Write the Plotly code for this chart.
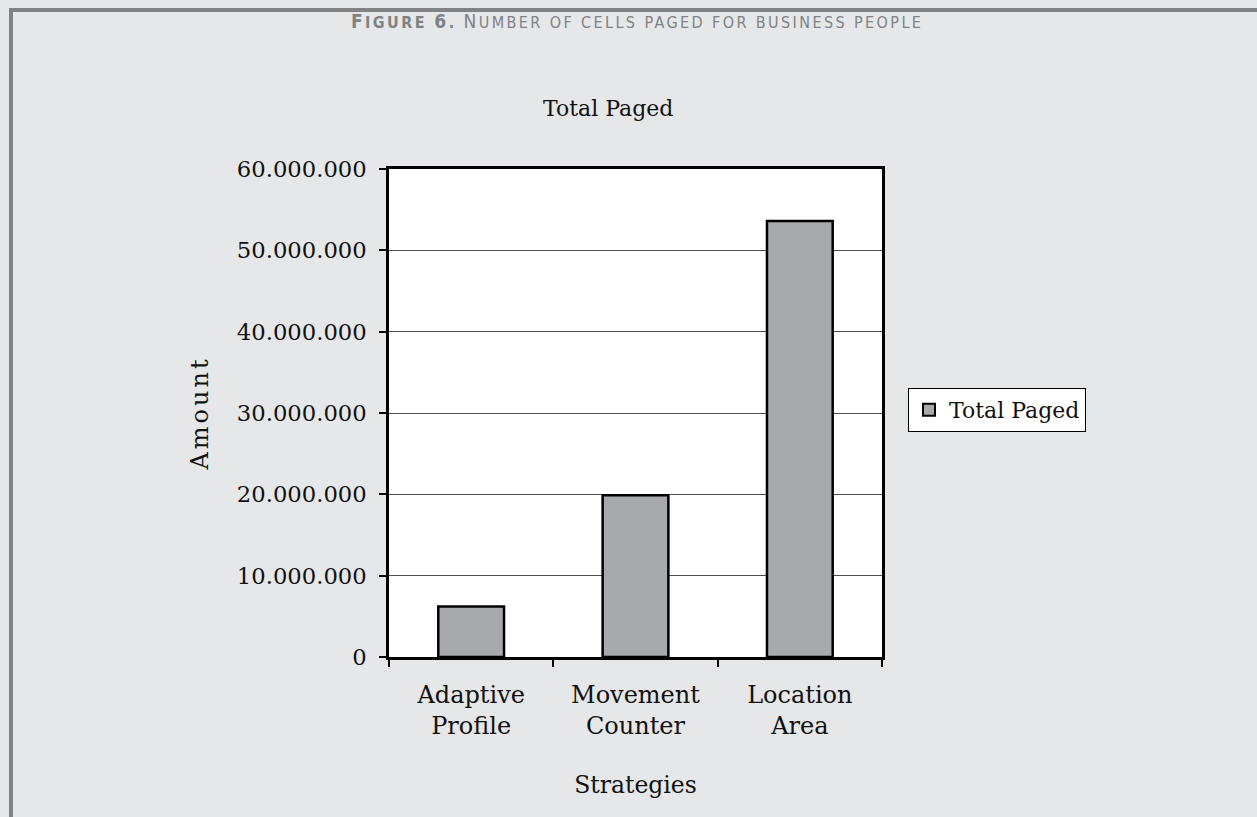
import plotly.graph_objects as go

# Paging results per location-management strategy
strategies = ["Adaptive<br>Profile", "Movement<br>Counter", "Location<br>Area"]
total_paged = [6200000, 19900000, 53600000]
y_ticks = [0, 10000000, 20000000, 30000000, 40000000, 50000000, 60000000]

W, H = 1257, 817
L, R, T, B = 389, 882, 169, 657  # plot-area edges in pixels

def px_x(x):
    return (x - L) / (R - L)

def px_y(y):
    return (B - y) / (B - T)

SERIF = "DejaVu Serif, Liberation Serif, serif"
FRAME = "#808285"

def small_caps(text, big=19, small=16):
    """Build a small-caps string: capitals at full size, the rest as smaller capitals."""
    out = []
    for word in text.split(" "):
        parts = []
        for ch in word:
            if ch.isupper() or ch.isdigit():
                parts.append(f"<span style='font-size:{big}px'>{ch}</span>")
            else:
                parts.append(f"<span style='font-size:{small}px'>{ch.upper()}</span>")
        out.append("".join(parts))
    return " ".join(out)

header = (
    "<span style='letter-spacing:2.4px'>"
    "<b>" + small_caps("Figure 6.") + "</b> "
    + small_caps("Number of cells paged for business people")
    + "</span>"
)

fig = go.Figure()
fig.add_trace(go.Bar(
    x=strategies,
    y=total_paged,
    name="Total Paged",
    marker=dict(color="#a8a9ad", line=dict(color="#000000", width=2.5)),
))

fig.update_layout(
    width=W, height=H,
    margin=dict(l=L, r=W - R, t=T, b=H - B, pad=0),
    paper_bgcolor="#e6e7e8",
    plot_bgcolor="#ffffff",
    separators=",.",
    bargap=0.6,
    font=dict(family=SERIF, size=22, color="#111111"),
    showlegend=True,
    legend=dict(
        x=px_x(908), y=px_y(410), xanchor="left", yanchor="middle",
        bgcolor="#ffffff", bordercolor="#000000", borderwidth=1,
        font=dict(family=SERIF, size=22, color="#111111"),
        itemsizing="constant",
    ),
    xaxis=dict(
        type="category",
        tickson="boundaries",
        ticks="outside", ticklen=7, tickwidth=1.5, tickcolor="#000000",
        showline=True, linecolor="#000000", linewidth=2.5, mirror=True,
        showgrid=False,
        tickfont=dict(family=SERIF, size=24),
        ticklabelstandoff=14,
        title=dict(text="Strategies", font=dict(family=SERIF, size=23.5), standoff=38),
    ),
    yaxis=dict(
        range=[0, 60000000],
        tickvals=y_ticks,
        tickformat=",d",
        ticks="outside", ticklen=7, tickwidth=1.5, tickcolor="#000000",
        showline=True, linecolor="#000000", linewidth=2.5, mirror=True,
        showgrid=True, gridcolor="#4d4d4d", gridwidth=1,
        zeroline=False,
        tickfont=dict(family=SERIF, size=22.7),
        ticklabelstandoff=8,
        title=dict(text="<span style='letter-spacing:3px'>Amount</span>",
                   font=dict(family=SERIF, size=24), standoff=22),
    ),
    annotations=[
        dict(
            text="Total Paged", x=px_x(608), y=px_y(108),
            xref="paper", yref="paper", xanchor="center", yanchor="middle",
            showarrow=False, font=dict(family=SERIF, size=22, color="#111111"),
        ),
        dict(
            text=header,
            x=px_x(637), y=px_y(21),
            xref="paper", yref="paper", xanchor="center", yanchor="middle",
            showarrow=False,
            font=dict(family="DejaVu Sans Condensed, Liberation Sans Narrow, sans-serif",
                      size=16, color=FRAME),
        ),
    ],
    shapes=[
        # gray frame along the top and the left side
        dict(type="line", xref="paper", yref="paper",
             x0=px_x(9), x1=px_x(W + 5), y0=px_y(10), y1=px_y(10),
             line=dict(color=FRAME, width=4)),
        dict(type="line", xref="paper", yref="paper",
             x0=px_x(11), x1=px_x(11), y0=px_y(8), y1=px_y(H + 5),
             line=dict(color=FRAME, width=4)),
    ],
)

fig.write_html("out.html")
